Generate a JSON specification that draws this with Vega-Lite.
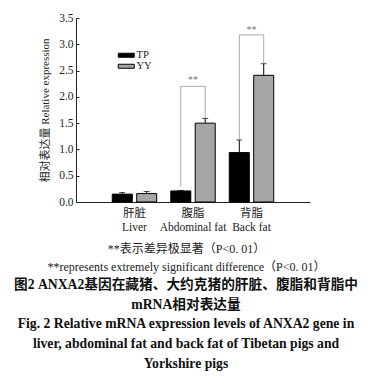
{
  "$schema": "https://vega.github.io/schema/vega-lite/v6.json",
  "autosize": "none",
  "width": 234,
  "height": 184,
  "padding": {"left": 76, "top": 18, "right": 62, "bottom": 186},
  "background": "white",
  "config": {
    "view": {"stroke": null},
    "font": "Liberation Serif, Noto Sans CJK SC",
    "axis": {"labelFont": "Liberation Serif, Noto Sans CJK SC", "titleFont": "Liberation Serif, Noto Sans CJK SC", "labelColor": "#222", "titleColor": "#222", "domainColor": "#222", "tickColor": "#222"}
  },
  "title": {
    "text": ["图2  ANXA2基因在藏猪、大约克猪的肝脏、腹脂和背脂中", "mRNA相对表达量", "Fig. 2   Relative mRNA expression levels of ANXA2 gene in", "liver, abdominal fat and back fat of Tibetan pigs and", "Yorkshire pigs"],
    "orient": "bottom",
    "anchor": "middle",
    "dx": -7,
    "offset": 6,
    "font": "Liberation Serif, Noto Sans CJK SC",
    "fontSize": 13.7,
    "fontWeight": "bold",
    "lineHeight": 19.7,
    "color": "#111"
  },
  "datasets": {
    "bars": [
      {"cat": "肝脏|Liver", "grp": "TP", "v": 0.15, "hi": 0.18},
      {"cat": "肝脏|Liver", "grp": "YY", "v": 0.16, "hi": 0.2},
      {"cat": "腹脂|Abdominal fat", "grp": "TP", "v": 0.21, "hi": 0.22},
      {"cat": "腹脂|Abdominal fat", "grp": "YY", "v": 1.5, "hi": 1.59},
      {"cat": "背脂|Back fat", "grp": "TP", "v": 0.94, "hi": 1.18},
      {"cat": "背脂|Back fat", "grp": "YY", "v": 2.41, "hi": 2.63}
    ],
    "brackets": [
      {"b": "a", "o": 1, "cat": "腹脂|Abdominal fat", "grp": "TP", "y": 0.29},
      {"b": "a", "o": 2, "cat": "腹脂|Abdominal fat", "grp": "TP", "y": 2.2},
      {"b": "a", "o": 3, "cat": "腹脂|Abdominal fat", "grp": "YY", "y": 2.2},
      {"b": "a", "o": 4, "cat": "腹脂|Abdominal fat", "grp": "YY", "y": 1.6},
      {"b": "b", "o": 1, "cat": "背脂|Back fat", "grp": "TP", "y": 1.19},
      {"b": "b", "o": 2, "cat": "背脂|Back fat", "grp": "TP", "y": 3.18},
      {"b": "b", "o": 3, "cat": "背脂|Back fat", "grp": "YY", "y": 3.18},
      {"b": "b", "o": 4, "cat": "背脂|Back fat", "grp": "YY", "y": 2.64}
    ],
    "stars": [
      {"cat": "腹脂|Abdominal fat", "y": 2.33, "t": "**"},
      {"cat": "背脂|Back fat", "y": 3.28, "t": "**"}
    ]
  },
  "encoding": {
    "x": {
      "field": "cat", "type": "nominal", "sort": null,
      "scale": {"domain": ["肝脏|Liver", "腹脂|Abdominal fat", "背脂|Back fat"], "paddingInner": 0.24, "paddingOuter": 0.62},
      "axis": {
        "labelExpr": "split(datum.value, '|')",
        "labelAngle": 0, "ticks": false, "labelFontSize": 11.5, "labelLineHeight": 14, "labelPadding": 5,
        "title": ["**表示差异极显著（P<0. 01）", "**represents extremely significant difference（P<0. 01）"],
        "titleFontSize": 12, "titleFontWeight": "normal", "titleLineHeight": 17.5, "titlePadding": 11, "titleX": 110, "titleAnchor": "middle",
        "domainWidth": 1
      }
    }
  },
  "layer": [
    {
      "data": {"name": "bars"},
      "mark": {"type": "bar", "stroke": "#000", "strokeWidth": 1},
      "encoding": {
        "xOffset": {"field": "grp", "type": "nominal", "scale": {"paddingInner": 0.18, "paddingOuter": 0}},
        "y": {
          "field": "v", "type": "quantitative",
          "scale": {"domain": [0, 3.5], "nice": false},
          "axis": {"values": [0, 0.5, 1, 1.5, 2, 2.5, 3, 3.5], "format": ".1f", "grid": false, "tickSize": -3, "labelPadding": 6, "labelFontSize": 11.5, "labelOverlap": false, "labelFlush": false, "title": "相对表达量 Relative expression", "titleFontSize": 11, "titleFontWeight": "normal", "titlePadding": 8, "domainWidth": 1}
        },
        "fill": {
          "field": "grp", "type": "nominal",
          "scale": {"domain": ["TP", "YY"], "range": ["#000000", "#a6a6a6"]},
          "legend": {"title": null, "orient": "none", "legendX": 45, "legendY": 32, "symbolType": "M-2,-0.5H2V0.5H-2Z", "symbolSize": 64, "symbolStrokeColor": "#000", "symbolStrokeWidth": 1, "labelFontSize": 10.5, "labelOffset": 5, "rowPadding": 0, "padding": 0, "labelColor": "#222"}
        }
      }
    },
    {
      "data": {"name": "bars"},
      "mark": {"type": "rule", "color": "#000", "strokeWidth": 1},
      "encoding": {
        "xOffset": {"field": "grp", "type": "nominal"},
        "y": {"field": "v", "type": "quantitative", "axis": {"values": [0, 0.5, 1, 1.5, 2, 2.5, 3, 3.5], "format": ".1f", "grid": false, "tickSize": -3, "labelPadding": 6, "labelFontSize": 11.5, "labelOverlap": false, "labelFlush": false, "title": "相对表达量 Relative expression", "titleFontSize": 11, "titleFontWeight": "normal", "titlePadding": 8, "domainWidth": 1}},
        "y2": {"field": "hi"}
      }
    },
    {
      "data": {"name": "bars"},
      "mark": {"type": "tick", "color": "#000", "size": 6, "thickness": 1, "orient": "horizontal"},
      "encoding": {
        "xOffset": {"field": "grp", "type": "nominal"},
        "y": {"field": "hi", "type": "quantitative", "axis": {"values": [0, 0.5, 1, 1.5, 2, 2.5, 3, 3.5], "format": ".1f", "grid": false, "tickSize": -3, "labelPadding": 6, "labelFontSize": 11.5, "labelOverlap": false, "labelFlush": false, "title": "相对表达量 Relative expression", "titleFontSize": 11, "titleFontWeight": "normal", "titlePadding": 8, "domainWidth": 1}}
      }
    },
    {
      "data": {"name": "brackets"},
      "mark": {"type": "line", "color": "#aaaaaa", "strokeWidth": 1, "interpolate": "linear"},
      "encoding": {
        "xOffset": {"field": "grp", "type": "nominal"},
        "y": {"field": "y", "type": "quantitative", "axis": {"values": [0, 0.5, 1, 1.5, 2, 2.5, 3, 3.5], "format": ".1f", "grid": false, "tickSize": -3, "labelPadding": 6, "labelFontSize": 11.5, "labelOverlap": false, "labelFlush": false, "title": "相对表达量 Relative expression", "titleFontSize": 11, "titleFontWeight": "normal", "titlePadding": 8, "domainWidth": 1}},
        "detail": {"field": "b"},
        "order": {"field": "o", "type": "quantitative"}
      }
    },
    {
      "data": {"name": "stars"},
      "mark": {"type": "text", "color": "#777", "fontSize": 10, "baseline": "middle", "font": "Liberation Serif"},
      "encoding": {
        "y": {"field": "y", "type": "quantitative", "axis": {"values": [0, 0.5, 1, 1.5, 2, 2.5, 3, 3.5], "format": ".1f", "grid": false, "tickSize": -3, "labelPadding": 6, "labelFontSize": 11.5, "labelOverlap": false, "labelFlush": false, "title": "相对表达量 Relative expression", "titleFontSize": 11, "titleFontWeight": "normal", "titlePadding": 8, "domainWidth": 1}},
        "text": {"field": "t"}
      }
    }
  ]
}
